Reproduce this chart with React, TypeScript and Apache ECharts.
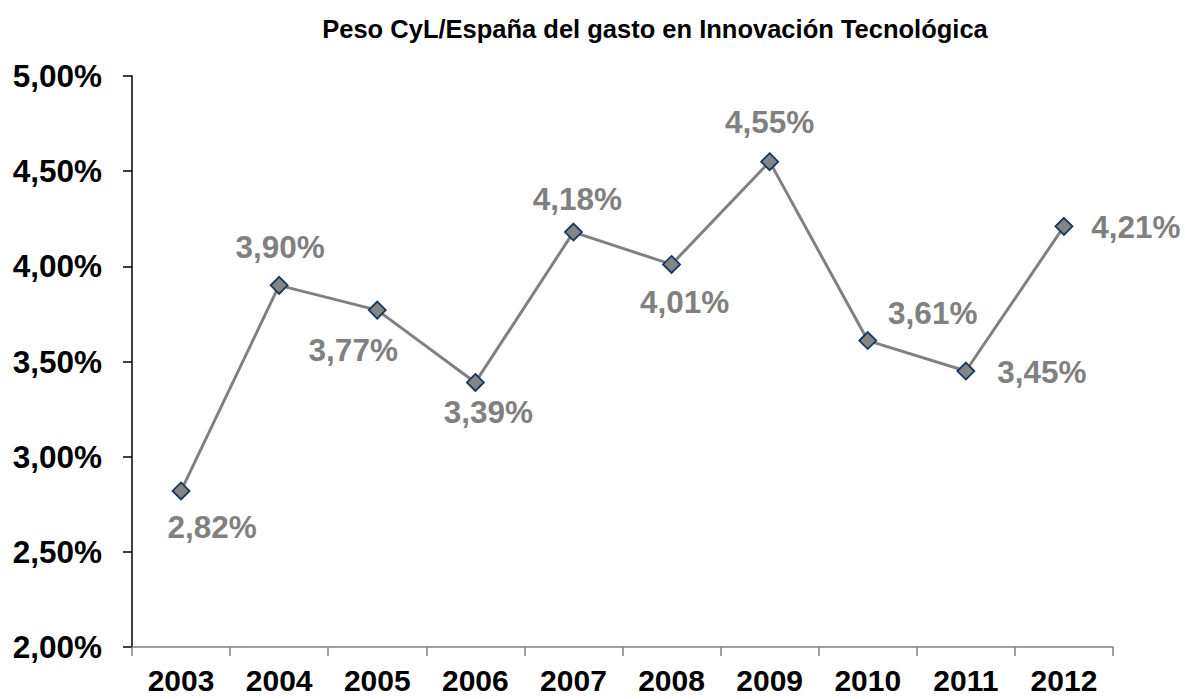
import React, { useEffect, useRef } from "react";
import * as echarts from "echarts";

const title = "Peso CyL/España del gasto en Innovación Tecnológica";
const years = ["2003", "2004", "2005", "2006", "2007", "2008", "2009", "2010", "2011", "2012"];
const values = [2.82, 3.9, 3.77, 3.39, 4.18, 4.01, 4.55, 3.61, 3.45, 4.21];
const yTicks = { min: 2, max: 5, interval: 0.5 };

// label placement (pixel offsets from the marker centre)
const labelOffsets: [number, number][] = [
  [31, 36], [1, -38], [-24, 40], [13, 30], [4, -33],
  [13, 38], [0, -40], [65, -28], [76, 1], [72, 1],
];

const FONT = 'Arial, "Liberation Sans", sans-serif';
const fmt = (v: number) => v.toFixed(2).replace(".", ",") + "%";

export default function App() {
  const ref = useRef<HTMLDivElement>(null);
  useEffect(() => {
    document.body.style.margin = "0";
    const chart = echarts.init(ref.current!, null, { renderer: "svg" });
    chart.setOption({
      animation: false,
      backgroundColor: "#ffffff",
      title: {
        text: title,
        left: 650,
        top: 11,
        textAlign: "center",
        textStyle: { fontFamily: FONT, fontWeight: "bold", fontSize: 25.5, color: "#000" },
      },
      grid: { left: 132, right: 72, top: 76, bottom: 52, containLabel: false, outerBoundsMode: "none" },
      xAxis: {
        type: "category",
        data: years,
        boundaryGap: true,
        axisLine: { lineStyle: { color: "#808080", width: 1.5 } },
        axisTick: { show: true, alignWithLabel: false, length: 9, lineStyle: { color: "#808080", width: 1.5 } },
        axisLabel: {
          fontFamily: FONT, fontWeight: "bold", fontSize: 30, lineHeight: 27,
          color: "#000", margin: 20, interval: 0,
        },
        splitLine: { show: false },
      },
      yAxis: {
        type: "value",
        min: yTicks.min,
        max: yTicks.max,
        interval: yTicks.interval,
        axisLine: { show: true, lineStyle: { color: "#404040", width: 2 } },
        axisTick: { show: true, length: 9, lineStyle: { color: "#000", width: 1.5 } },
        axisLabel: { fontFamily: FONT, fontWeight: "bold", fontSize: 31.5, color: "#000", margin: 30, formatter: fmt },
        splitLine: { show: false },
      },
      series: [
        {
          type: "line",
          data: values.map((v, i) => ({
            value: v,
            label: {
              show: true,
              position: "inside",
              offset: labelOffsets[i],
              align: "center",
              verticalAlign: "middle",
            },
          })),
          lineStyle: { color: "#808080", width: 3 },
          symbol: "diamond",
          symbolSize: 17,
          itemStyle: { color: "#858585", borderColor: "#17375E", borderWidth: 1.8 },
          label: {
            show: true,
            fontFamily: FONT,
            fontWeight: "bold",
            fontSize: 31.5,
            color: "#808080",
            formatter: (p: any) => fmt(p.value),
          },
        },
      ],
    });
    return () => chart.dispose();
  }, []);
  return <div ref={ref} style={{ width: 1185, height: 699 }} />;
}
